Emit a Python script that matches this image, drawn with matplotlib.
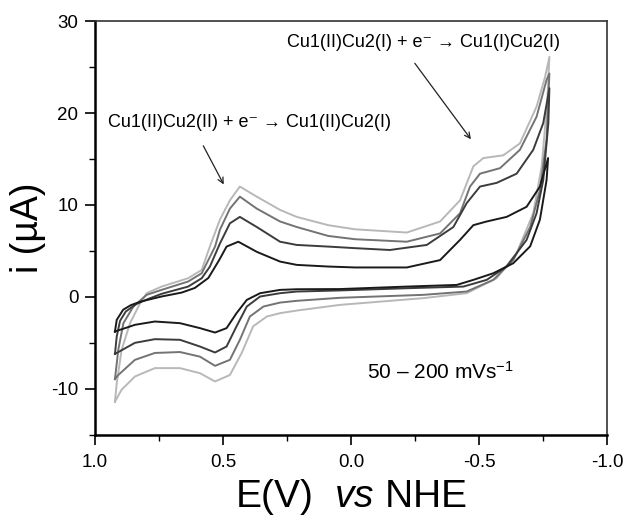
import matplotlib
matplotlib.use("Agg")
import matplotlib.pyplot as plt

plt.rcParams['font.family'] = ['Liberation Sans', 'DejaVu Sans']
plt.rcParams['mathtext.fontset'] = 'custom'
plt.rcParams['mathtext.rm'] = 'Liberation Sans'
plt.rcParams['mathtext.it'] = 'Liberation Sans:italic'
plt.rcParams['axes.unicode_minus'] = False

# cyclic voltammograms, one closed loop per scan rate (E in V, i in uA)
# forward sweep first (0.92 V -> -0.78 V), then the return sweep
e_50 = [0.922, 0.915, 0.89, 0.86, 0.82, 0.74, 0.661, 0.61, 0.557, 0.515, 0.486, 0.44,
        0.368, 0.277, 0.212, 0.089, -0.016, -0.218, -0.348, -0.426, -0.478, -0.53,
        -0.608, -0.686, -0.738, -0.77,
        -0.764, -0.738, -0.70, -0.634, -0.556, -0.478, -0.413, -0.218, 0.043, 0.212,
        0.277, 0.355, 0.407, 0.447, 0.486, 0.531, 0.59, 0.668, 0.766, 0.844, 0.922]
i_50 = [-3.77, -2.5, -1.4, -0.9, -0.5, 0.04, 0.47, 0.97, 2.06, 4.0, 5.47, 6.0,
        4.9, 3.84, 3.48, 3.3, 3.2, 3.2, 4.0, 6.2, 7.8, 8.2,
        8.7, 9.8, 12.0, 15.1,
        12.7, 8.4, 5.5, 3.66, 2.57, 1.85, 1.3, 1.12, 0.85, 0.83,
        0.76, 0.4, -0.33, -1.77, -3.4, -3.88, -3.4, -2.86, -2.68, -3.04, -3.77]

e_100 = [0.922, 0.915, 0.902, 0.88, 0.84, 0.79, 0.74, 0.636, 0.583, 0.551, 0.512, 0.473,
         0.434, 0.368, 0.277, 0.212, 0.089, -0.016, -0.152, -0.296, -0.4, -0.452,
         -0.504, -0.569, -0.647, -0.712, -0.751, -0.775,
         -0.771, -0.751, -0.725, -0.686, -0.608, -0.53, -0.439, -0.218, 0.043, 0.212,
         0.277, 0.355, 0.407, 0.447, 0.486, 0.531, 0.59, 0.668, 0.766, 0.844, 0.915, 0.922]
i_100 = [-6.2, -4.3, -2.6, -1.6, -0.8, -0.2, 0.33, 1.12, 2.03, 3.3, 5.8, 8.0,
         8.7, 7.6, 6.0, 5.65, 5.47, 5.3, 5.1, 5.65, 7.6, 10.2,
         12.0, 12.4, 13.4, 16.0, 18.9, 22.7,
         18.9, 12.7, 9.1, 6.2, 3.3, 1.85, 1.12, 0.94, 0.7, 0.58,
         0.4, 0.04, -1.05, -3.2, -5.4, -6.05, -5.4, -4.67, -4.6, -5.0, -6.1, -6.2]

e_150 = [0.922, 0.909, 0.889, 0.85, 0.798, 0.74, 0.636, 0.583, 0.531, 0.512, 0.473,
         0.434, 0.368, 0.277, 0.212, 0.089, -0.016, -0.218, -0.348, -0.426, -0.465,
         -0.504, -0.582, -0.66, -0.725, -0.764, -0.775,
         -0.764, -0.738, -0.70, -0.634, -0.556, -0.452, -0.282, 0.043, 0.212, 0.277,
         0.342, 0.395, 0.434, 0.473, 0.531, 0.59, 0.668, 0.766, 0.844, 0.909, 0.922]
i_150 = [-8.95, -5.76, -2.86, -1.05, 0.22, 0.76, 1.67, 2.57, 5.47, 7.3, 9.6,
         10.9, 9.6, 8.2, 7.6, 6.63, 6.27, 6.0, 6.9, 9.1, 12.0,
         13.4, 14.0, 16.0, 19.6, 23.6, 24.3,
         17.1, 11.6, 7.6, 4.0, 1.85, 0.58, 0.22, -0.1, -0.43, -0.62,
         -1.05, -2.14, -4.67, -6.85, -7.5, -6.5, -6.0, -6.1, -6.85, -8.5, -8.95]

e_200 = [0.922, 0.915, 0.896, 0.863, 0.824, 0.798, 0.74, 0.636, 0.583, 0.551, 0.512,
         0.473, 0.434, 0.368, 0.277, 0.212, 0.089, -0.016, -0.218, -0.348, -0.426,
         -0.478, -0.517, -0.595, -0.66, -0.725, -0.758, -0.775,
         -0.767, -0.745, -0.712, -0.647, -0.569, -0.452, -0.282, 0.043, 0.212, 0.277,
         0.329, 0.382, 0.427, 0.473, 0.531, 0.59, 0.668, 0.766, 0.844, 0.896, 0.922]
i_200 = [-11.4, -9.4, -5.76, -2.86, -0.7, 0.4, 1.12, 2.03, 2.93, 5.5, 8.4,
         10.5, 12.0, 10.9, 9.46, 8.7, 7.8, 7.35, 7.0, 8.2, 10.5,
         14.2, 15.1, 15.4, 16.7, 20.7, 23.9, 26.1,
         21.4, 14.2, 9.1, 4.75, 2.03, 0.4, -0.14, -0.87, -1.49, -1.77,
         -2.14, -3.2, -6.1, -8.5, -9.2, -8.3, -7.75, -7.75, -8.66, -10.1, -11.4]

fig = plt.figure(figsize=(6.29, 5.27), dpi=100)
ax = fig.add_axes([0.151, 0.175, 0.814, 0.785])

ax.plot(e_200, i_200, color='#b8b8b8', lw=1.4)
ax.plot(e_150, i_150, color='#737373', lw=1.4)
ax.plot(e_100, i_100, color='#3c3c3c', lw=1.4)
ax.plot(e_50, i_50, color='#1a1a1a', lw=1.4)

ax.set_xlim(1.0, -1.0)
ax.set_ylim(-15, 30)
ax.set_xticks([1.0, 0.5, 0.0, -0.5, -1.0])
ax.set_xticklabels(['1.0', '0.5', '0.0', '-0.5', '-1.0'])
ax.set_xticks([0.75, 0.25, -0.25, -0.75], minor=True)
ax.set_yticks([-10, 0, 10, 20, 30])
ax.set_yticks([-15, -5, 5, 15, 25], minor=True)
ax.tick_params(which='major', direction='out', length=7, width=1.2, labelsize=13.5, pad=5)
ax.tick_params(which='minor', direction='out', length=4, width=1.0)
ax.tick_params(axis='x', which='major', pad=7)

for side in ['left', 'bottom']:
    ax.spines[side].set_linewidth(1.8)
for side in ['top', 'right']:
    ax.spines[side].set_linewidth(1.2)
    ax.spines[side].set_color('#333333')

ax.set_xlabel(r'E(V)  $\mathit{vs}$ NHE', fontsize=28, labelpad=4)
ax.set_ylabel('i (µA)', fontsize=27, labelpad=4)

ax.text(0.395, 19.0, 'Cu1(II)Cu2(II) + e⁻ → Cu1(II)Cu2(I)', fontsize=13,
        ha='center', va='center')
ax.text(-0.283, 27.7, 'Cu1(II)Cu2(I) + e⁻ → Cu1(I)Cu2(I)', fontsize=13,
        ha='center', va='center')
ax.text(-0.35, -8.2, r'50 – 200 mVs$^{-1}$', fontsize=15, ha='center', va='center')

arrow = dict(arrowstyle='->', color='#222222', lw=0.9)
ax.annotate('', xy=(0.492, 11.96), xytext=(0.582, 16.7), arrowprops=arrow)
ax.annotate('', xy=(-0.475, 16.9), xytext=(-0.243, 25.65), arrowprops=arrow)

fig.savefig('out.png', dpi=100)
